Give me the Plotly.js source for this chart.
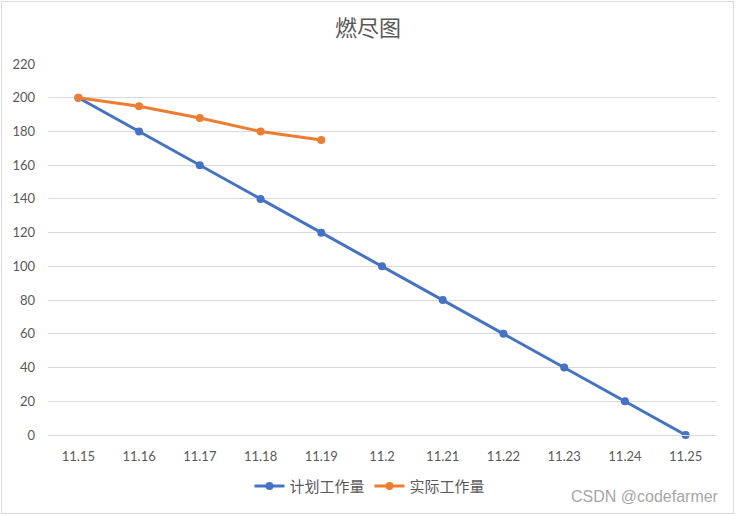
<!DOCTYPE html>
<html>
<head>
<meta charset="utf-8">
<script src="https://cdn.plot.ly/plotly-3.0.1.min.js"></script>
<style>
  body { margin: 0; background: #fff; }
  #wrap { position: relative; width: 736px; height: 515px; }
  #chart { width: 736px; height: 515px; }
  #frame { position: absolute; left: 1px; top: 1px; width: 731px; height: 511px;
           border: 1px solid #d9d9d9; pointer-events: none; }
</style>
</head>
<body>
<div id="wrap">
  <div id="chart"></div>
  <div id="frame"></div>
</div>
<script>
const categories = ["11.15","11.16","11.17","11.18","11.19","11.2","11.21","11.22","11.23","11.24","11.25"];
const plannedName = "计划工作量";
const plannedValues = [200,180,160,140,120,100,80,60,40,20,0];
const actualName = "实际工作量";
const actualValues = [200,195,188,180,175];
const yTicks = [0,20,40,60,80,100,120,140,160,180,200,220];
const titleText = "燃尽图";
const watermark = "CSDN @codefarmer";

const baseFont = "Lato, 'Noto Sans CJK SC', sans-serif";
const cjkFont = "'Noto Sans CJK SC', 'Noto Sans', sans-serif";

const traces = [
  { x: categories, y: plannedValues, name: plannedName, type: "scatter", mode: "lines+markers", cliponaxis: false,
    line: { color: "#4472C4", width: 3 }, marker: { color: "#4472C4", size: 8 } },
  { x: categories.slice(0, actualValues.length), y: actualValues, name: actualName, type: "scatter", mode: "lines+markers", cliponaxis: false,
    line: { color: "#ED7D31", width: 3 }, marker: { color: "#ED7D31", size: 8 } }
];

const layout = {
  width: 736, height: 515,
  margin: { l: 48, r: 20, t: 64, b: 77 },
  paper_bgcolor: "#fff", plot_bgcolor: "#fff",
  title: { text: titleText, x: 0.5, xref: "container", xanchor: "center", y: 0.945, yref: "container", yanchor: "middle",
           font: { family: cjkFont, size: 22, color: "#595959" } },
  font: { family: baseFont, color: "#595959", size: 13 },
  xaxis: { type: "category", range: [-0.5, 10.5], showgrid: false, zeroline: false,
           showline: true, linecolor: "#d9d9d9", linewidth: 1, ticks: "", ticklabelstandoff: 9,
           tickfont: { family: baseFont, size: 13, color: "#595959" }, fixedrange: true },
  yaxis: { range: [0, 220], tickvals: yTicks, showgrid: true, gridcolor: "#d9d9d9", gridwidth: 1,
           zeroline: false, showline: false, ticks: "", ticklabelstandoff: 12,
           tickfont: { family: baseFont, size: 13, color: "#595959" }, fixedrange: true },
  showlegend: true,
  legend: { orientation: "h", x: 0.482, xanchor: "center", y: -0.138, yanchor: "middle",
            font: { family: cjkFont, size: 15, color: "#595959" }, itemwidth: 30 },
  annotations: [
    { text: watermark, xref: "paper", yref: "paper", x: 1.008, y: -0.165, xanchor: "right", yanchor: "middle",
      showarrow: false, font: { family: "'Liberation Sans', Arial, sans-serif", size: 16, color: "#a6a6a6" } }
  ]
};

Plotly.newPlot("chart", traces, layout, { displayModeBar: false, staticPlot: true });
</script>
</body>
</html>
